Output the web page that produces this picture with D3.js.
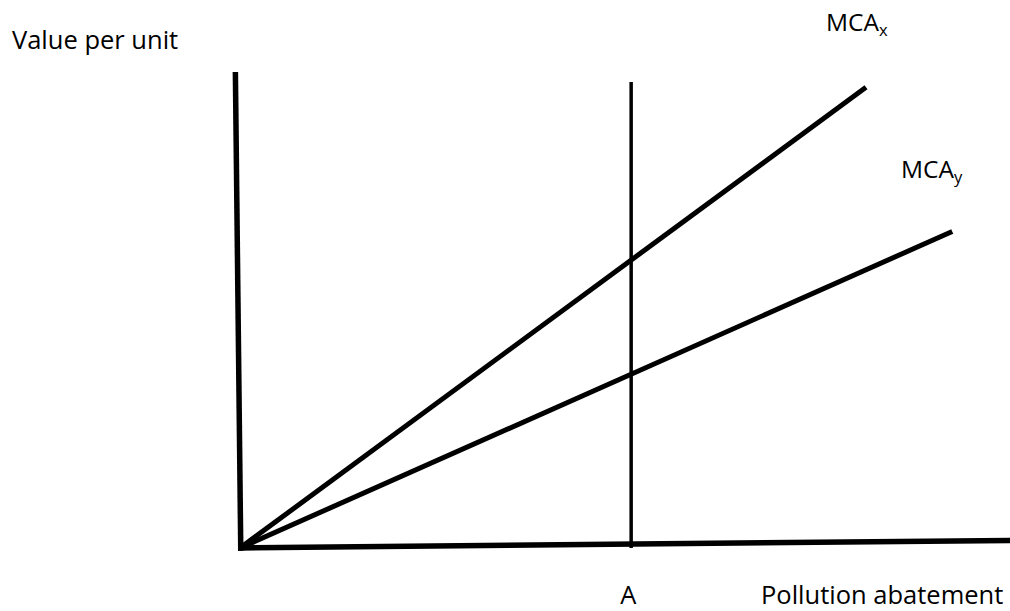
<!DOCTYPE html>
<html lang="en">
<head>
	<meta charset="UTF-8">
	<title>MCA</title>
	<script src="https://d3js.org/d3.v7.min.js"></script>
	<style>
		body { margin: 0; background: #fff; }
		text { font-family: "Open Sans", sans-serif; fill: #000; }
	</style>
</head>
<body>
<div id="chart"></div>
<script>
	// 数据 (data units 0-100, origin bottom-left)
	var yAxisLine = [[0.1, -0.6], [-0.6, 100]];
	var xAxisLine = [[0, 0], [100, 1.6]];
	var mcaX = [[0, 0], [81.3, 96.8]];
	var mcaY = [[0, 0], [92.5, 66.5]];
	var levelA = 50.8;
	var levelATop = 97.9;
	var labels = ["Value per unit", "Pollution abatement", "A"];

	var width = 1010, height = 611;

	var x = d3.scaleLinear().domain([0, 100]).range([240, 1010]);
	var y = d3.scaleLinear().domain([0, 100]).range([548, 72]);

	var svg = d3.select('#chart')
		.append('svg')
		.attr('width', width)
		.attr('height', height);

	var line = d3.line()
		.x(function(d){ return x(d[0]); })
		.y(function(d){ return y(d[1]); });

	// 各条线
	var lines = [
		{ pts: yAxisLine, w: 5.5 },
		{ pts: xAxisLine, w: 5.5 },
		{ pts: mcaX, w: 5 },
		{ pts: mcaY, w: 5 },
		{ pts: [[levelA, 0], [levelA, levelATop]], w: 3.5 }
	];

	svg.selectAll('path.ln')
		.data(lines)
		.enter()
		.append('path')
		.attr('class', 'ln')
		.attr('d', function(d){ return line(d.pts); })
		.attr('fill', 'none')
		.attr('stroke', '#000')
		.attr('stroke-width', function(d){ return d.w; });

	// 文字
	svg.append('text').attr('x', 12).attr('y', 49).attr('font-size', 25.5).text(labels[0]);
	svg.append('text').attr('x', 761).attr('y', 604).attr('font-size', 25.5).text(labels[1]);
	svg.append('text').attr('x', x(levelA) - 11).attr('y', 604).attr('font-size', 25.5).text(labels[2]);

	var tx = svg.append('text').attr('x', 826).attr('y', 31).attr('font-size', 24.5);
	tx.append('tspan').text('MCA');
	tx.append('tspan').attr('font-size', 16.5).attr('dy', 4.5).text('x');

	var ty = svg.append('text').attr('x', 901).attr('y', 178).attr('font-size', 24.5);
	ty.append('tspan').text('MCA');
	ty.append('tspan').attr('font-size', 16.5).attr('dy', 4.5).text('y');
</script>
</body>
</html>
